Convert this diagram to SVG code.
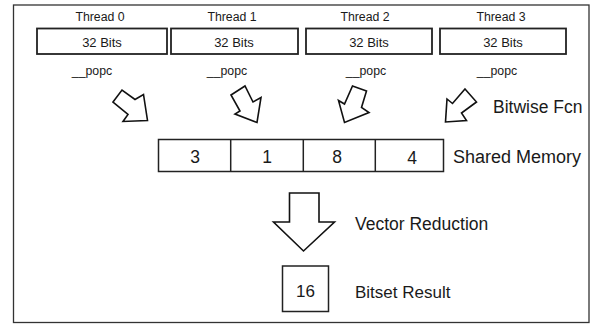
<svg xmlns="http://www.w3.org/2000/svg" width="594" height="324" viewBox="0 0 594 324">
  <style>
    .frame { fill: #ffffff; stroke: #333333; stroke-width: 1.3; }
    .box { fill: #ffffff; stroke: #222222; stroke-width: 1.8; }
    .cell { fill: #ffffff; stroke: #222222; stroke-width: 1.5; }
    .arrow { fill: #ffffff; stroke: #111111; stroke-width: 1.6; stroke-linejoin: miter; }
    text { font-family: "Liberation Sans", Arial, sans-serif; fill: #1a1a1a; }
    .small { font-size: 12.3px; text-anchor: middle; }
    .bits { font-size: 13px; text-anchor: middle; }
    .label { font-size: 17.5px; }
    .num { font-size: 17.5px; text-anchor: middle; }
  </style>

  <rect class="frame" x="13.5" y="5" width="575.5" height="317.5"/>

  <!-- per-thread registers -->
  <g id="thread0">
    <text class="small" x="100" y="21">Thread 0</text>
    <rect class="box" x="37" y="28.5" width="130" height="25.5"/>
    <text class="bits" x="102" y="46.5">32 Bits</text>
    <text class="small" x="92" y="75">__popc</text>
  </g>
  <g id="thread1">
    <text class="small" x="232" y="21">Thread 1</text>
    <rect class="box" x="171" y="28.5" width="127" height="25.5"/>
    <text class="bits" x="234" y="46.5">32 Bits</text>
    <text class="small" x="227" y="75">__popc</text>
  </g>
  <g id="thread2">
    <text class="small" x="365" y="21">Thread 2</text>
    <rect class="box" x="306" y="28.5" width="126" height="25.5"/>
    <text class="bits" x="369" y="46.5">32 Bits</text>
    <text class="small" x="366" y="75">__popc</text>
  </g>
  <g id="thread3">
    <text class="small" x="501" y="21">Thread 3</text>
    <rect class="box" x="440" y="28.5" width="126" height="25.5"/>
    <text class="bits" x="503" y="46.5">32 Bits</text>
    <text class="small" x="497" y="75">__popc</text>
  </g>

  <!-- block arrows from threads into shared memory, and the reduction arrow -->
  <g id="connectors">
    <polygon class="arrow" points="113,102 122,90 135,99.5 143.5,94.5 147.5,120.5 123,121.5 128,114.5"/>
    <polygon class="arrow" points="231,95 245,86 253,102 261,97.5 257,122.5 235,114 240,111"/>
    <polygon class="arrow" points="352.5,86 366.5,91 361.5,107.5 369,112.5 344.5,122.5 338.5,100.5 344.5,104"/>
    <polygon class="arrow" points="465,89 476.5,102 461.5,113 466.5,120.5 445.5,122 447,99 452.5,103.5"/>
    <polygon class="arrow" points="289.5,193 319,193 319,222 334.5,222 303.5,251 273.5,222 289.5,222"/>
  </g>

  <g id="bitwise-label">
    <text class="label" x="493" y="112.5">Bitwise Fcn</text>
  </g>

  <!-- shared memory slots -->
  <g id="shared-memory">
    <rect class="cell" x="158.5" y="139.5" width="285" height="32"/>
    <line class="cell" x1="230.7" y1="139.5" x2="230.7" y2="171.5"/>
    <line class="cell" x1="303.3" y1="139.5" x2="303.3" y2="171.5"/>
    <line class="cell" x1="375.3" y1="139.5" x2="375.3" y2="171.5"/>
    <text class="num" x="195" y="162.5">3</text>
    <text class="num" x="267" y="162.5">1</text>
    <text class="num" x="337" y="162.5">8</text>
    <text class="num" x="412" y="164">4</text>
    <text class="label" x="453" y="162.5" style="font-size:18px">Shared Memory</text>
  </g>

  <g id="reduction-label">
    <text class="label" x="355" y="230">Vector Reduction</text>
  </g>

  <g id="result">
    <rect class="cell" x="282.5" y="266" width="46" height="45.5"/>
    <text class="num" x="305.5" y="297" style="font-size:17px">16</text>
    <text class="label" x="355" y="298" style="font-size:17px">Bitset Result</text>
  </g>
</svg>
